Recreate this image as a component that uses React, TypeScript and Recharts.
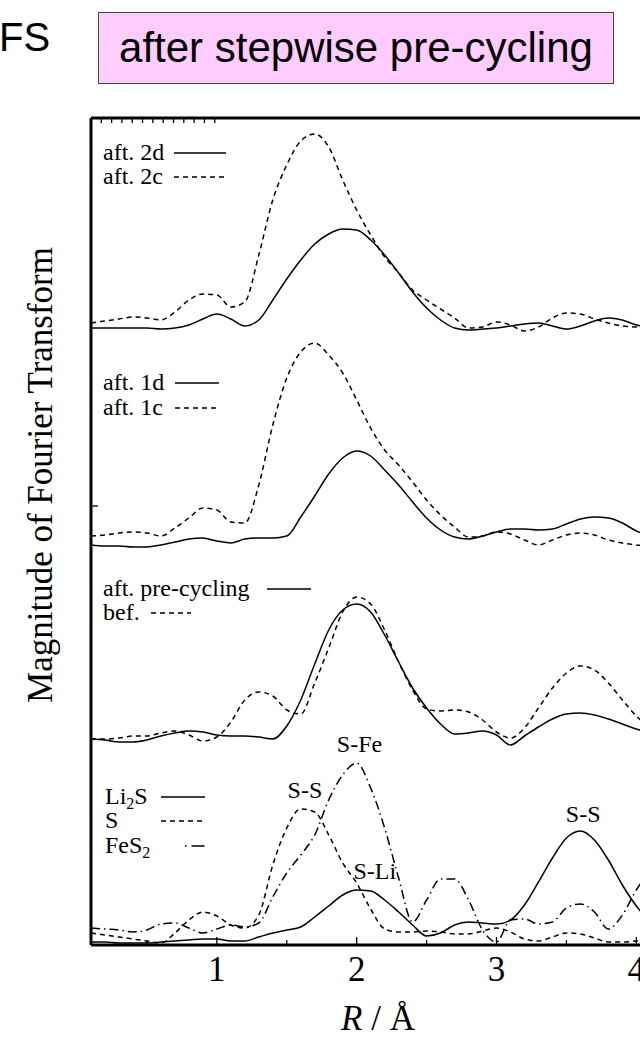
import { Line, LineChart, ReferenceDot, XAxis, YAxis } from "recharts";

const SERIF = "'Liberation Serif', 'Times New Roman', serif";
const SANS = "'Liberation Sans', Arial, sans-serif";

const DASH = "5 4";
const DASH_DOT = "9 4 1.5 4";

// R / Å
const R = [
  0.1, 0.2, 0.3, 0.4, 0.5, 0.6, 0.7, 0.8, 0.9, 1.0, 1.1, 1.2, 1.3, 1.4, 1.5, 1.6, 1.7, 1.8, 1.9, 2.0, 2.1,
  2.2, 2.3, 2.4, 2.5, 2.6, 2.7, 2.8, 2.9, 3.0, 3.1, 3.2, 3.3, 3.4, 3.5, 3.6, 3.7, 3.8, 3.9, 4.0, 4.1,
];

// vertical offsets of the stacked spectra
const OFFSET_2 = 610;
const OFFSET_1 = 395;
const OFFSET_PRE = 195;
const OFFSET_REF = 0;

const aft2d = [
  7, 7, 7, 7, 7, 6, 7, 10, 16, 21, 16, 9, 15, 35, 56, 75, 91, 101, 106, 105, 95,
  80, 62, 43, 27, 15, 7, 5, 6, 7, 9, 11, 12, 9, 6, 9, 14, 17, 15, 10, 8,
];
const aft2c = [
  12, 14, 16, 18, 17, 15, 23, 35, 41, 40, 28, 33, 80, 135, 170, 194, 201, 188, 155, 125, 100,
  78, 62, 45, 35, 26, 17, 7, 8, 13, 10, 4, 8, 17, 22, 21, 16, 12, 9, 8, 7,
];
const aft1d = [
  5, 4, 4, 3, 3, 5, 8, 11, 12, 9, 7, 11, 12, 12, 14, 33, 54, 76, 92, 99, 94,
  80, 65, 48, 32, 20, 13, 11, 14, 18, 21, 21, 20, 21, 26, 31, 33, 32, 27, 19, 14,
];
const aft1c = [
  14, 15, 17, 18, 17, 14, 22, 32, 42, 40, 28, 27, 65, 125, 172, 198, 207, 195, 177, 150, 122,
  100, 85, 68, 50, 35, 23, 13, 14, 18, 16, 10, 5, 10, 15, 17, 15, 10, 7, 5, 4,
];
const aftPre = [
  11, 10, 8, 8, 10, 14, 17, 19, 18, 15, 14, 14, 13, 11, 24, 50, 86, 120, 140, 146, 138,
  115, 88, 62, 42, 26, 16, 17, 19, 15, 5, 14, 23, 31, 36, 37, 35, 31, 26, 21, 17,
];
const bef = [
  11, 11, 12, 14, 14, 17, 19, 15, 9, 13, 28, 50, 58, 54, 40, 36, 67, 102, 138, 153, 146,
  120, 88, 60, 41, 39, 40, 38, 30, 18, 12, 22, 42, 62, 77, 84, 80, 67, 50, 34, 22,
];
const li2s = [
  3, 3, 2, 2, 2, 3, 4, 5, 6, 6, 4, 4, 8, 12, 15, 18, 28, 39, 50, 55, 54,
  45, 33, 20, 9, 12, 20, 23, 22, 21, 25, 40, 63, 87, 107, 114, 105, 85, 60, 39, 23,
];
const sulfur = [
  12, 10, 8, 6, 4, 2, 12, 25, 33, 29, 20, 17, 30, 80, 117, 136, 133, 110, 82, 62, 36,
  16, 13, 13, 14, 13, 11, 11, 14, 17, 13, 6, 4, 8, 12, 11, 7, 3, 3, 4, 5,
];
const fes2 = [
  17, 16, 15, 13, 15, 21, 22, 17, 12, 16, 20, 18, 22, 48, 72, 90, 110, 145, 170, 182, 157,
  117, 67, 23, 45, 66, 66, 45, 15, 3, 25, 26, 21, 23, 37, 41, 33, 16, 30, 55, 75,
];

// peak assignments: [label, R, magnitude]
const PEAK_LABELS: [string, number, number][] = [
  ["S-S", 1.63, 156],
  ["S-Fe", 2.02, 202],
  ["S-Li", 2.13, 75],
  ["S-S", 3.62, 132],
];

const X_TICKS = [0.5, 1, 1.5, 2, 2.5, 3, 3.5, 4, 4.5, 5, 5.5, 6];
const Y_TICKS = [439];

const rows = R.map((r, i) => ({
  r,
  aft2d: aft2d[i] + OFFSET_2,
  aft2c: aft2c[i] + OFFSET_2,
  aft1d: aft1d[i] + OFFSET_1,
  aft1c: aft1c[i] + OFFSET_1,
  aftPre: aftPre[i] + OFFSET_PRE,
  bef: bef[i] + OFFSET_PRE,
  li2s: li2s[i] + OFFSET_REF,
  sulfur: sulfur[i] + OFFSET_REF,
  fes2: fes2[i] + OFFSET_REF,
}));

// ticks point into the frame, gnuplot style
function BottomTick(props: any) {
  const { x, y, payload } = props;
  const major = Number.isInteger(payload.value);
  return (
    <g>
      <line x1={x} x2={x} y1={y} y2={y - (major ? 8 : 5)} stroke="#000" strokeWidth={1.3} />
      {major && (
        <text x={x} y={y + 36} textAnchor="middle" fontSize={35} fontFamily={SERIF} fill="#000">
          {payload.value}
        </text>
      )}
    </g>
  );
}

function TopTick(props: any) {
  const { x, y } = props;
  return <line x1={x} x2={x} y1={y} y2={y + 5} stroke="#000" strokeWidth={1.3} />;
}

function LeftTick(props: any) {
  const { x, y } = props;
  return <line x1={x} x2={x + 7} y1={y} y2={y} stroke="#000" strokeWidth={1.3} />;
}

function Key({ x, y, x1, x2, dash, children }: any) {
  return (
    <g>
      <text x={x} y={y + 7} fontSize={24}>
        {children}
      </text>
      <line x1={x1} x2={x2} y1={y} y2={y} stroke="#000" strokeWidth={1.6} strokeDasharray={dash} />
    </g>
  );
}

const sub = (s: string) => (
  <tspan fontSize={16} dy={5}>
    {s}
  </tspan>
);

export default function App() {
  const series = [
    { key: "aft2d", dash: undefined },
    { key: "aft2c", dash: DASH },
    { key: "aft1d", dash: undefined },
    { key: "aft1c", dash: DASH },
    { key: "aftPre", dash: undefined },
    { key: "bef", dash: DASH },
    { key: "li2s", dash: undefined },
    { key: "sulfur", dash: DASH },
    { key: "fes2", dash: DASH_DOT },
  ];

  return (
    <div
      style={{
        position: "absolute",
        left: 0,
        top: 0,
        width: 640,
        height: 1040,
        overflow: "hidden",
        background: "#fff",
      }}
    >
      <div style={{ position: "absolute", left: -1, top: 17, fontFamily: SANS, fontSize: 40, lineHeight: "40px" }}>FS</div>
      <div
        style={{
          position: "absolute",
          left: 98,
          top: 12,
          width: 516,
          height: 72,
          boxSizing: "border-box",
          border: "1.5px solid #444",
          background: "#ffccff",
          fontFamily: SANS,
          fontSize: 42,
          display: "flex",
          alignItems: "center",
          justifyContent: "center",
          whiteSpace: "nowrap",
        }}
      >
        after stepwise pre-cycling
      </div>

      <div style={{ position: "absolute", left: 0, top: 0 }}>
        <LineChart width={940} height={1040} data={rows} margin={{ top: 117, right: 24, bottom: 94, left: 90 }}>
          <XAxis
            dataKey="r"
            type="number"
            domain={[0.1, 6]}
            ticks={X_TICKS}
            interval={0}
            height={1}
            tickSize={0}
            tickMargin={0}
            tickLine={false}
            axisLine={{ stroke: "#000", strokeWidth: 3 }}
            tick={<BottomTick />}
            allowDataOverflow
          />
          <XAxis
            xAxisId="top"
            orientation="top"
            type="number"
            domain={[0.1, 6]}
            ticks={X_TICKS}
            interval={0}
            height={1}
            tickSize={0}
            tickMargin={0}
            tickLine={false}
            axisLine={{ stroke: "#000", strokeWidth: 3 }}
            tick={<TopTick />}
            allowDataOverflow
          />
          <YAxis
            type="number"
            domain={[0, 827]}
            ticks={Y_TICKS}
            interval={0}
            width={1}
            tickSize={0}
            tickMargin={0}
            tickLine={false}
            axisLine={{ stroke: "#000", strokeWidth: 3 }}
            tick={<LeftTick />}
            allowDataOverflow
          />
          {series.map((s) => (
            <Line
              key={s.key}
              dataKey={s.key}
              type="monotone"
              stroke="#000"
              strokeWidth={1.5}
              strokeDasharray={s.dash}
              dot={false}
              activeDot={false}
              isAnimationActive={false}
            />
          ))}
          {PEAK_LABELS.map(([text, r, m]) => (
            <ReferenceDot
              key={`${text}-${r}`}
              x={r}
              y={m}
              r={0}
              fill="none"
              stroke="none"
              label={{ value: text, position: "center", fontSize: 24, fontFamily: SERIF, fill: "#000" }}
            />
          ))}
        </LineChart>
      </div>

      <svg
        width={640}
        height={1040}
        fontFamily={SERIF}
        fill="#000"
        style={{ position: "absolute", left: 0, top: 0, pointerEvents: "none" }}
      >
        <text transform="translate(40,475) rotate(-90)" textAnchor="middle" dominantBaseline="central" fontSize={35}>
          Magnitude of Fourier Transform
        </text>
        <text x={378} y={1030} textAnchor="middle" fontSize={35}>
          <tspan fontStyle="italic">R</tspan> / Å
        </text>

        <Key x={103} y={153} x1={174} x2={226}>aft. 2d</Key>
        <Key x={103} y={177} x1={174} x2={226} dash={DASH}>aft. 2c</Key>

        <Key x={103} y={383} x1={175} x2={219}>aft. 1d</Key>
        <Key x={103} y={408} x1={175} x2={219} dash={DASH}>aft. 1c</Key>

        <Key x={103} y={589} x1={267} x2={311}>aft. pre-cycling</Key>
        <Key x={103} y={613} x1={151} x2={191} dash={DASH}>bef.</Key>

        <Key x={105} y={797} x1={161} x2={205}>
          Li{sub("2")}
          <tspan dy={-5}>S</tspan>
        </Key>
        <Key x={105} y={821} x1={161} x2={205} dash={DASH}>S</Key>
        <Key x={105} y={846} x1={185} x2={205} dash="1.5 5 13">
          FeS{sub("2")}
        </Key>
      </svg>
    </div>
  );
}
